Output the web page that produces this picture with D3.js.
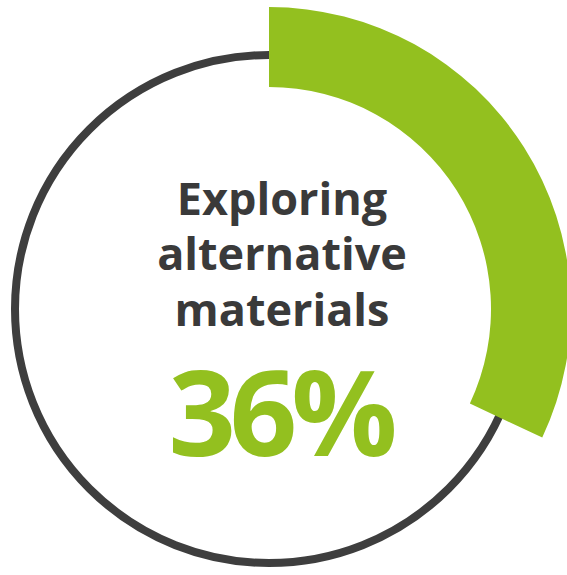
<!DOCTYPE html>
<html>
<head>
<meta charset="utf-8">
<script src="https://cdn.jsdelivr.net/npm/d3@7"></script>
<style>
  html, body { margin: 0; padding: 0; background: #fff; }
  svg { display: block; }
</style>
</head>
<body>
<div id="chart"></div>
<script>
// chart data
var labelLines = ["Exploring", "alternative", "materials"];
var shareValue = [36];      // value printed in the middle
var arcPercent = [32];      // sweep of the green arc (percent of circle)

var width = 567,
    height = 575,
    cx = 269,
    cy = 309;

var colors = {
    ring: "#3e3e3e",
    green: "#93c01f",
    text: "#3a3a3a"
};

var svg = d3.select("#chart").append("svg")
    .attr("width", width)
    .attr("height", height);

var g = svg.append("g")
    .attr("transform", "translate(" + cx + "," + cy + ")");

// percent -> angle
var angle = d3.scaleLinear().domain([0, 100]).range([0, 2 * Math.PI]);

// thin grey ring
g.append("circle")
    .attr("r", 254)
    .style("fill", "none")
    .style("stroke", colors.ring)
    .style("stroke-width", 8);

// green progress arc
var arc = d3.arc()
    .innerRadius(222)
    .outerRadius(302)
    .startAngle(0)
    .endAngle(function(d) { return angle(d); });

g.selectAll("path.share").data(arcPercent).enter()
    .append("path")
    .attr("class", "share")
    .attr("d", arc)
    .style("fill", colors.green);

// label
var lineY = d3.scalePoint().domain(labelLines).range([215, 325.5]);

svg.selectAll("text.label").data(labelLines).enter()
    .append("text")
    .attr("class", "label")
    .attr("x", 282)
    .attr("y", function(d) { return lineY(d); })
    .attr("text-anchor", "middle")
    .style("font-family", "'Open Sans', sans-serif")
    .style("font-weight", 700)
    .style("font-size", "45px")
    .style("fill", colors.text)
    .text(function(d) { return d; });

svg.selectAll("text.value").data(shareValue).enter()
    .append("text")
    .attr("class", "value")
    .attr("x", 280)
    .attr("y", 456)
    .attr("text-anchor", "middle")
    .style("font-family", "'Open Sans', sans-serif")
    .style("font-weight", 700)
    .style("font-size", "118px")
    .style("letter-spacing", "-6px")
    .style("fill", colors.green)
    .text(function(d) { return d + "%"; });
</script>
</body>
</html>
